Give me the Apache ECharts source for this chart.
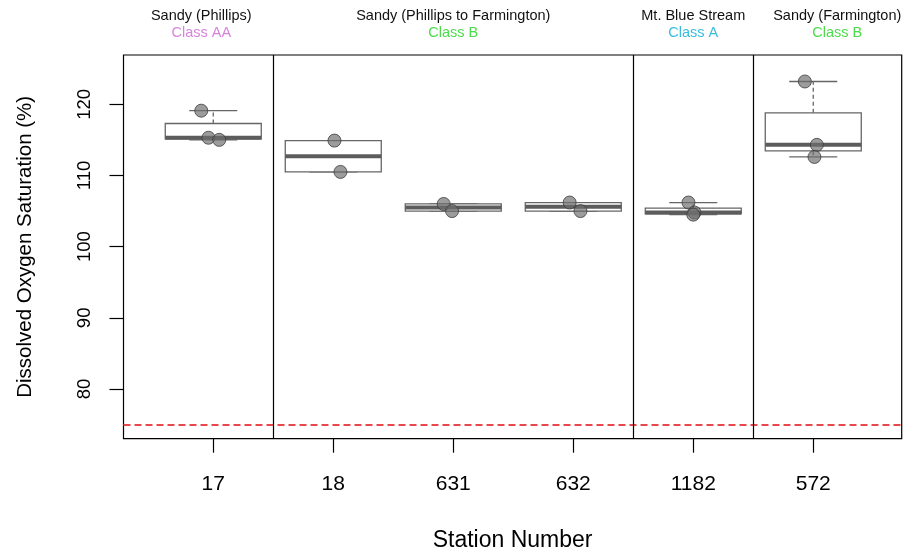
<!DOCTYPE html>
<html>
<head>
<meta charset="utf-8">
<script src="https://cdn.jsdelivr.net/npm/echarts@6/dist/echarts.min.js"></script>
<style>
  html, body { margin: 0; padding: 0; background: #fff; }
  #chart { width: 905px; height: 554px; }
</style>
</head>
<body>
<div id="chart"></div>
<script>
// stations on the x axis (positions 1..6)
var stations = ["17", "18", "631", "632", "1182", "572"];
var stationPos = [1, 2, 3, 4, 5, 6];

// group labels above the plot
var groupPos = [0.9, 3, 5, 6.2];
var groupNames = ["Sandy (Phillips)", "Sandy (Phillips to Farmington)", "Mt. Blue Stream", "Sandy (Farmington)"];
var groupClass = ["Class AA", "Class B", "Class A", "Class B"];
var classStyle = ["aa", "b", "a", "b"];

// box statistics: [position, min, q1, median, q3, max]
var boxStats = [
  [1, 115.0, 115.15, 115.3, 117.3, 119.1],
  [2, 110.5, 110.5, 112.7, 114.9, 114.9],
  [3, 105.0, 105.0, 105.5, 106.0, 106.0],
  [4, 105.0, 105.0, 105.6, 106.2, 106.2],
  [5, 104.5, 104.6, 104.8, 105.4, 106.2],
  [6, 112.6, 113.45, 114.3, 118.8, 123.2]
];

// individual samples (jittered position, value)
var samples = [
  [0.90, 119.1], [0.96, 115.3], [1.05, 115.0],
  [2.01, 114.9], [2.06, 110.5],
  [2.92, 106.0], [2.99, 105.0],
  [3.97, 106.2], [4.06, 105.0],
  [4.96, 106.2], [5.01, 104.8], [5.00, 104.5],
  [5.93, 123.2], [6.03, 114.3], [6.01, 112.6]
];

var yTicks = [80, 90, 100, 110, 120];
var threshold = 75;
var dividers = [1.5, 4.5, 5.5];

var chart = echarts.init(document.getElementById("chart"));
var font = "Liberation Sans, Arial, sans-serif";

var option = {
  animation: false,
  textStyle: { fontFamily: font },
  grid: {
    left: 123.5,
    right: 3.3,
    top: 55,
    bottom: 115.3,
    outerBoundsMode: "none",
    containLabel: false,
    show: true,
    borderColor: "#000",
    borderWidth: 1.2,
    backgroundColor: "#fff"
  },
  xAxis: [
    {
      type: "value",
      min: 0.252,
      max: 6.737,
      name: "Station Number",
      nameLocation: "middle",
      nameGap: 90,
      nameTextStyle: { fontSize: 23, color: "#000", fontFamily: font },
      splitLine: { show: false },
      axisLine: { show: false },
      axisTick: {
        show: true,
        customValues: stationPos,
        length: 14,
        lineStyle: { color: "#000", width: 1.2 }
      },
      axisLabel: {
        customValues: stationPos,
        margin: 35,
        fontSize: 21,
        color: "#000",
        fontFamily: font,
        formatter: function (v) {
          return stations[Math.round(v) - 1];
        }
      }
    },
    {
      type: "value",
      position: "top",
      min: 0.252,
      max: 6.737,
      splitLine: { show: false },
      axisLine: { show: false },
      axisTick: { show: false },
      axisLabel: {
        customValues: groupPos,
        margin: 14,
        fontFamily: font,
        formatter: function (v) {
          var i = 0;
          groupPos.forEach(function (p, k) {
            if (Math.abs(p - v) < 0.05) i = k;
          });
          return "{n|" + groupNames[i] + "}\n{" + classStyle[i] + "|" + groupClass[i] + "}";
        },
        rich: {
          n: { fontSize: 14.5, color: "#111", lineHeight: 17, fontFamily: font },
          aa: { fontSize: 14.5, color: "#d883dc", lineHeight: 17, fontFamily: font },
          b: { fontSize: 14.5, color: "#4ddb4d", lineHeight: 17, fontFamily: font },
          a: { fontSize: 14.5, color: "#3cbcdc", lineHeight: 17, fontFamily: font }
        }
      }
    }
  ],
  yAxis: {
    type: "value",
    min: 73.03,
    max: 126.92,
    name: "Dissolved Oxygen Saturation (%)",
    nameLocation: "middle",
    nameGap: 88,
    nameTextStyle: { fontSize: 20.5, color: "#000", fontFamily: font },
    splitLine: { show: false },
    axisLine: { show: false },
    axisTick: {
      show: true,
      customValues: yTicks,
      length: 14,
      lineStyle: { color: "#000", width: 1.2 }
    },
    axisLabel: {
      customValues: yTicks,
      rotate: 90,
      margin: 29,
      fontSize: 18.5,
      color: "#000",
      fontFamily: font
    }
  },
  series: [
    {
      type: "custom",
      data: boxStats,
      encode: { x: 0, y: [1, 2, 3, 4, 5] },
      renderItem: function (params, api) {
        var x = api.value(0);
        var half = api.size([0.4, 0])[0];
        var cap = api.size([0.2, 0])[0];
        var pMin = api.coord([x, api.value(1)]);
        var pQ1 = api.coord([x, api.value(2)]);
        var pMed = api.coord([x, api.value(3)]);
        var pQ3 = api.coord([x, api.value(4)]);
        var pMax = api.coord([x, api.value(5)]);
        var cx = pMed[0];
        var stroke = "#666";
        return {
          type: "group",
          children: [
            {
              type: "line",
              shape: { x1: cx, y1: pQ3[1], x2: cx, y2: pMax[1] },
              style: { stroke: stroke, lineWidth: 1.3, lineDash: [4, 3] }
            },
            {
              type: "line",
              shape: { x1: cx, y1: pQ1[1], x2: cx, y2: pMin[1] },
              style: { stroke: stroke, lineWidth: 1.3, lineDash: [4, 3] }
            },
            {
              type: "line",
              shape: { x1: cx - cap, y1: pMax[1], x2: cx + cap, y2: pMax[1] },
              style: { stroke: stroke, lineWidth: 1.3 }
            },
            {
              type: "line",
              shape: { x1: cx - cap, y1: pMin[1], x2: cx + cap, y2: pMin[1] },
              style: { stroke: stroke, lineWidth: 1.3 }
            },
            {
              type: "rect",
              shape: { x: cx - half, y: pQ3[1], width: half * 2, height: pQ1[1] - pQ3[1] },
              style: { fill: "#fff", stroke: stroke, lineWidth: 1.3 }
            },
            {
              type: "line",
              shape: { x1: cx - half, y1: pMed[1], x2: cx + half, y2: pMed[1] },
              style: { stroke: "#5c5c5c", lineWidth: 4 }
            }
          ]
        };
      }
    },
    {
      type: "scatter",
      data: samples,
      symbolSize: 13,
      itemStyle: {
        color: "rgba(110,110,110,0.85)",
        borderColor: "#3c3c3c",
        borderWidth: 1
      },
      markLine: {
        silent: true,
        symbol: "none",
        label: { show: false },
        data: [
          {
            yAxis: threshold,
            lineStyle: { color: "#e8474b", width: 2, type: [7, 4] }
          }
        ].concat(dividers.map(function (d) {
          return { xAxis: d, lineStyle: { color: "#000", width: 1.2, type: "solid" } };
        }))
      }
    }
  ]
};

chart.setOption(option);
</script>
</body>
</html>
